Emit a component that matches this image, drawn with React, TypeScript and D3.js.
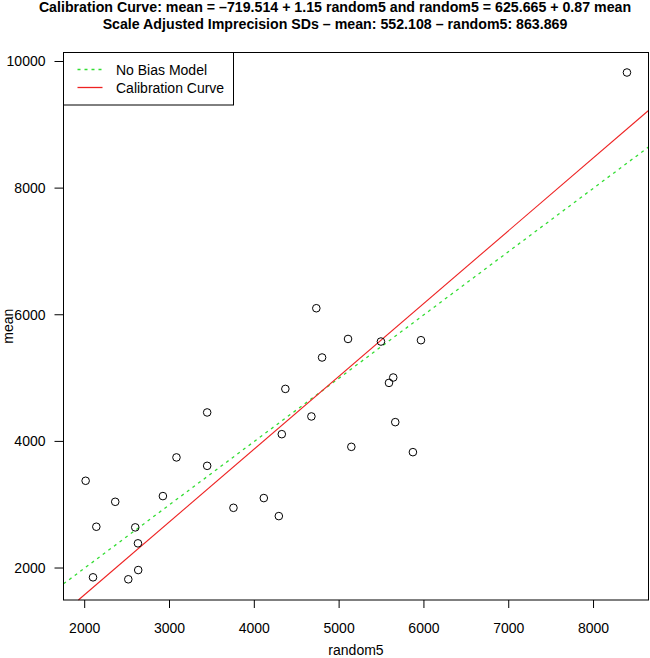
import React from 'react';
import * as d3 from 'd3';

// observed pairs (random5 on x, mean on y)
const random5 = [2011, 2137, 2098, 2360, 2596, 2628, 2514, 2631, 2922, 3082, 3444, 3444, 3754, 4112, 4289, 4324, 4366, 4673, 4731, 5105, 5493, 5965, 4799, 5638, 5588, 5662, 5144, 5870, 8394];
const meanVals = [3378, 2652, 1853, 3046, 2642, 2390, 1822, 1968, 3136, 3747, 4457, 3614, 2951, 3105, 2820, 4114, 4829, 4394, 6103, 5618, 5577, 5598, 5325, 5009, 4924, 4304, 3914, 3830, 9826];

const xTicks = [2000, 3000, 4000, 5000, 6000, 7000, 8000];
const yTicks = [2000, 4000, 6000, 8000, 10000];

const calIntercept = -719.514;
const calSlope = 1.15;

const titleLines = [
  'Calibration Curve: mean = \u2013719.514 + 1.15 random5 and random5 = 625.665 + 0.87 mean',
  'Scale Adjusted Imprecision SDs \u2013 mean: 552.108 \u2013 random5: 863.869',
];
const legendItems = ['No Bias Model', 'Calibration Curve'];

const W = 650;
const H = 658;
const FONT = '"Liberation Sans", Arial, Helvetica, sans-serif';

export default function App() {
  const left = 63.5, right = 648.5, top = 52.5, bottom = 600;
  const x = d3.scaleLinear().domain([1750, 8648]).range([left, right]);
  const y = d3.scaleLinear().domain([1495, 10142]).range([bottom, top]);

  const [x0, x1] = x.domain();
  const [y0, y1] = y.domain();

  // no bias: mean = random5
  const noBias = d3.line<number>()
    .x(d => x(d))
    .y(d => y(d));
  const nbStart = Math.max(x0, y0);
  const nbEnd = Math.min(x1, y1);

  // calibration: mean = a + b * random5
  const calX0 = Math.max(x0, (y0 - calIntercept) / calSlope);
  const calX1 = Math.min(x1, (y1 - calIntercept) / calSlope);
  const calLine = d3.line<number>()
    .x(d => x(d))
    .y(d => y(calIntercept + calSlope * d));

  const legendW = 170;
  const legendH = 52.5;
  const fs = 14;

  return (
    <svg width={W} height={H} style={{ position: 'absolute', left: 0, top: 0, background: '#fff' }} fontFamily={FONT}>
      <rect width={W} height={H} fill="#fff" />
      {titleLines.map((t, i) => (
        <text key={i} x={335} y={11.5 + i * 17} textAnchor="middle" fontWeight="bold" fontSize={14.2} fill="#000">{t}</text>
      ))}

      <path d={noBias([nbStart, nbEnd]) || ''} stroke="#33dd33" strokeWidth={1.3} strokeDasharray="3,4" fill="none" />
      <path d={calLine([calX0, calX1]) || ''} stroke="#ee2222" strokeWidth={1.1} fill="none" />

      {random5.map((v, i) => (
        <circle key={i} cx={x(v)} cy={y(meanVals[i])} r={3.8} fill="none" stroke="#000" strokeWidth={1} />
      ))}

      <rect x={left} y={top} width={right - left} height={bottom - top} fill="none" stroke="#000" strokeWidth={1} />

      {/* x axis */}
      <g>
        {xTicks.map(t => (
          <g key={t}>
            <line x1={x(t)} x2={x(t)} y1={bottom} y2={bottom + 8} stroke="#000" />
            <text x={x(t)} y={633} textAnchor="middle" fontSize={fs} fill="#000">{t}</text>
          </g>
        ))}
        <text x={(left + right) / 2} y={654.5} textAnchor="middle" fontSize={fs} fill="#000">random5</text>
      </g>

      {/* y axis */}
      <g>
        {yTicks.map(t => (
          <g key={t}>
            <line x1={left - 9} x2={left} y1={y(t)} y2={y(t)} stroke="#000" />
            <text x={left - 18} y={y(t) + 5} textAnchor="end" fontSize={fs} fill="#000">{t}</text>
          </g>
        ))}
        <text transform={`translate(13,${(top + bottom) / 2}) rotate(-90)`} textAnchor="middle" fontSize={fs} fill="#000">mean</text>
      </g>

      {/* legend */}
      <g>
        <rect x={left} y={top} width={legendW} height={legendH} fill="#fff" stroke="#000" strokeWidth={1} />
        {legendItems.map((t, i) => {
          const ly = top + 17 + i * 18;
          return (
            <g key={t}>
              <line x1={left + 14} x2={left + 39} y1={ly} y2={ly}
                stroke={i === 0 ? '#33dd33' : '#ee2222'} strokeWidth={1.3}
                strokeDasharray={i === 0 ? '3,4' : undefined} />
              <text x={left + 52.5} y={ly + 5.5} fontSize={fs} fill="#000">{t}</text>
            </g>
          );
        })}
      </g>
    </svg>
  );
}
